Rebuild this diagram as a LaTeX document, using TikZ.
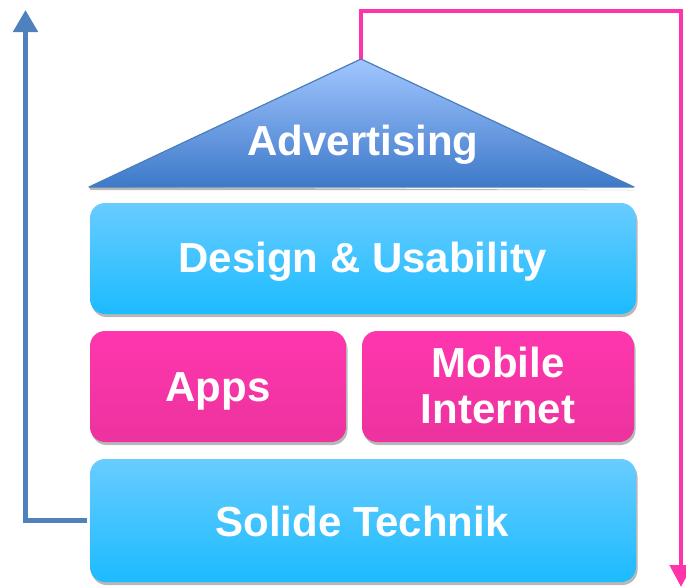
\documentclass[tikz,border=0pt]{standalone}
\usepackage{fontspec}
\setmainfont{Liberation Sans}
\usetikzlibrary{arrows.meta,shadows}
\definecolor{triTop}{HTML}{A2C6FF}
\definecolor{triBot}{HTML}{3D79C9}
\definecolor{triLine}{HTML}{4A7EBB}
\definecolor{cyTop}{HTML}{68CCFF}
\definecolor{cyBot}{HTML}{1CBBFF}
\definecolor{pkTop}{HTML}{FF36AE}
\definecolor{pkBot}{HTML}{EC339E}
\definecolor{pinkline}{HTML}{FF33AA}
\definecolor{bluearrowc}{HTML}{4F81BD}
\tikzset{
  lbl/.style={text=white,font=\bfseries\fontsize{42}{46}\selectfont,align=center,inner sep=0pt,anchor=base},
  boxbase/.style={rectangle,rounded corners=15pt,
    drop shadow={shadow xshift=1.5pt,shadow yshift=-3pt,fill=black!28,opacity=1}},
  cybox/.style={boxbase,top color=cyTop,bottom color=cyBot},
  pkbox/.style={boxbase,top color=pkTop,bottom color=pkBot},
  bluearr/.style={draw=bluearrowc,line width=5pt,-{Triangle[width=24pt,length=22pt]}},
  pinkarr/.style={draw=pinkline,line width=4.5pt,-{Triangle[width=22pt,length=22pt]}},
}
\begin{document}
\begin{tikzpicture}[x=1pt,y=-1pt]
\useasboundingbox (0,0) rectangle (686,587);
% triangle
\coordinate (apex) at (361,59);
\coordinate (tl) at (89,187);
\coordinate (tr) at (634,187);
\fill[black!28] ([shift={(1.5,3)}]tl) -- ([shift={(1.5,3)}]tr) -- ([shift={(0,3)}]tr) -- ([shift={(0,0)}]tl) -- cycle;
\shade[top color=triTop,bottom color=triBot,draw=triLine,line width=1.2pt,line join=round] (apex) -- (tr) -- (tl) -- cycle;
\node[lbl] (adv) at (363,155) {Advertising};
% boxes
\node[cybox,minimum width=546pt,minimum height=111pt] (design) at (363,258.5) {};
\node[pkbox,minimum width=256pt,minimum height=111pt] (apps) at (218,386.5) {};
\node[pkbox,minimum width=272pt,minimum height=111pt] (mobile) at (498,386.5) {};
\node[cybox,minimum width=546pt,minimum height=123pt] (solide) at (363,520.5) {};
\node[lbl] (designtxt) at (363,272.7) {Design \& Usability};
\node[lbl] (appstxt) at (218,401.7) {Apps};
\node[lbl] (mobiletxt) at (498,423) {Mobile\\Internet};
\node[lbl] (solidetxt) at (362,536.7) {Solide Technik};
% arrows
\coordinate (btop) at (25.5,10);
\draw[bluearr,shorten <=3pt] (solide.west) -| (btop);
\coordinate (pturn) at (681,11);
\coordinate (pend) at (681,587);
\draw[pinkarr] (apex) |- (pturn) -- (pend);
\end{tikzpicture}
\end{document}
